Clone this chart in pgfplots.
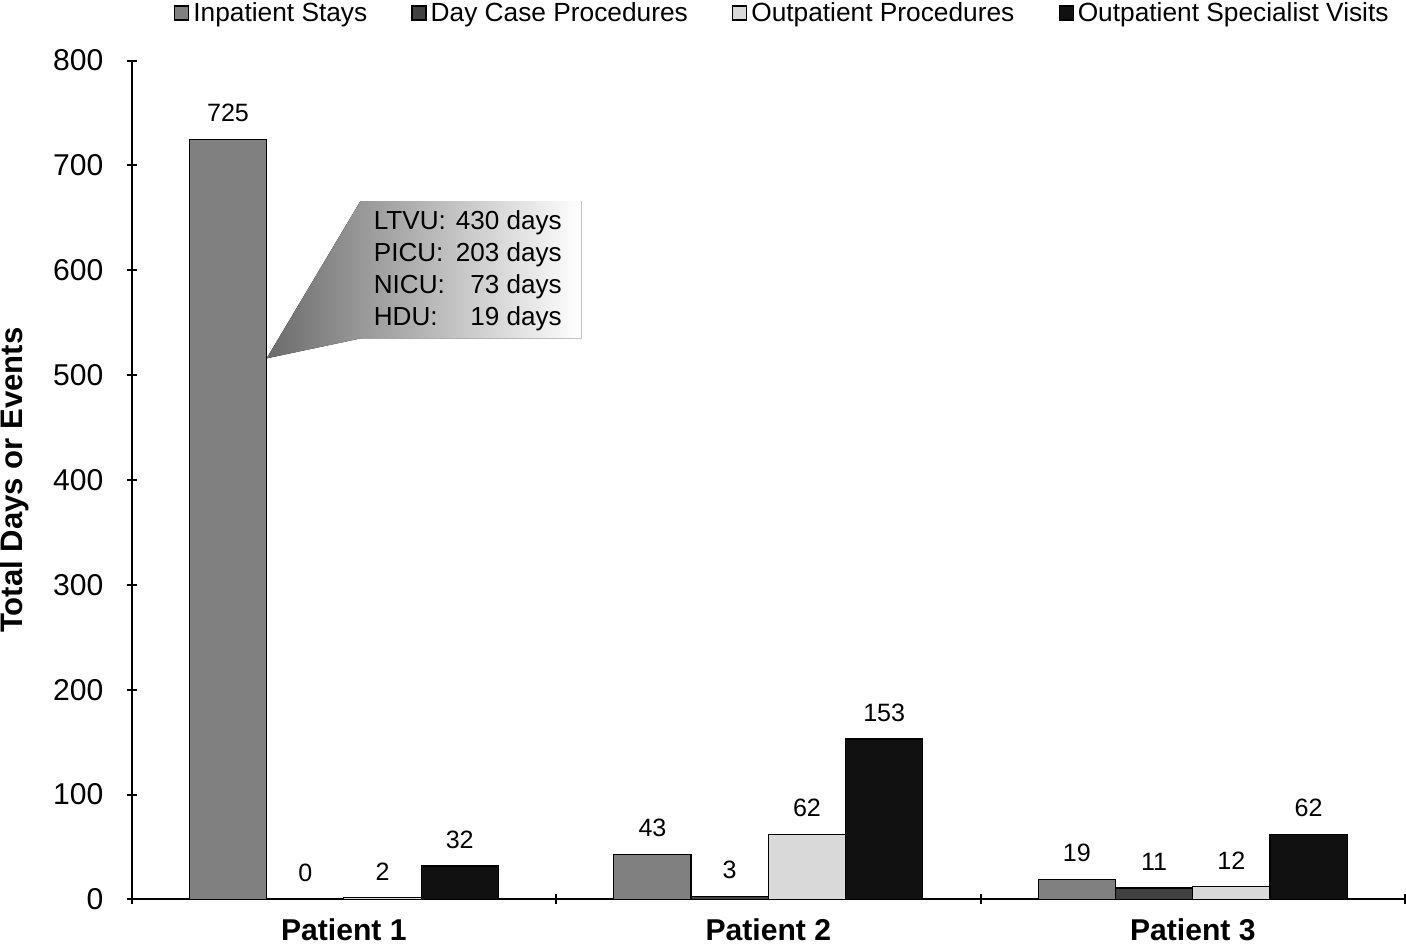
\documentclass[border=0pt]{standalone}
\usepackage{pgfplots}
\pgfplotsset{compat=1.18}
\usepackage{fontspec}
\setmainfont{Liberation Sans}
\definecolor{inpat}{RGB}{128,128,128}
\definecolor{daycase}{RGB}{64,64,64}
\definecolor{outproc}{RGB}{217,217,217}
\definecolor{spec}{RGB}{17,17,17}
\begin{document}
\begin{tikzpicture}
\begin{axis}[
    scale only axis,
    width=634.5pt, height=418pt,
    ybar=0pt, bar width=0.182,
    xmin=-0.5, xmax=2.5, ymin=0, ymax=800,
    xtick={0,1,2},
    xticklabels={Patient 1,Patient 2,Patient 3},
    minor xtick={-0.5,0.5,1.5,2.5},
    major x tick style={draw=none},
    ytick={0,100,...,800},
    tick align=outside,
    major tick length=5pt, minor tick length=5pt,
    axis lines=left,
    axis line style={-, line width=1pt},
    every tick/.style={black, line width=1pt},
    /pgf/number format/assume math mode=true,
    x tick label style={font=\fontsize{15}{18}\selectfont\bfseries, inner sep=0pt,
        text depth=2pt, yshift=-7pt},
    y tick label style={font=\fontsize{15}{18}\selectfont, xshift=-8pt},
    ylabel={Total Days or Events},
    every axis y label/.style={at={(axis description cs:-0.092,0.5)}, rotate=90, anchor=center,
        inner sep=0pt, font=\fontsize{15.5}{18}\selectfont\bfseries},
    nodes near coords,
    every node near coord/.append style={font=\fontsize{12.5}{14}\selectfont, black, yshift=5pt},
    legend columns=4,
    legend style={at={(1,1)}, anchor=south east, xshift=-6pt, yshift=17pt, draw=none,
        inner sep=0pt, nodes={inner ysep=1pt},
        font=\fontsize{13.1}{15}\selectfont,
        /tikz/every even column/.append style={column sep=20pt}},
    legend image code/.code={\draw[#1, line width=0.6pt] (0pt,-3.5pt) rectangle (7pt,3.5pt);},
]
\addplot[fill=inpat, draw=black, line width=0.6pt] coordinates {(0,725) (1,43) (2,19)};
\addplot[fill=daycase, draw=black, line width=0.6pt] coordinates {(0,0) (1,3) (2,11)};
\addplot[fill=outproc, draw=black, line width=0.6pt] coordinates {(0,2) (1,62) (2,12)};
\addplot[fill=spec, draw=black, line width=0.6pt] coordinates {(0,32) (1,153) (2,62)};
\legend{Inpatient Stays,Day Case Procedures,Outpatient Procedures,Outpatient Specialist Visits}
% callout
\fill[left color=black!58, right color=white, shading angle=90]
    (axis cs:-0.182,516) -- (axis cs:0.039,666) -- (axis cs:0.56,666)
    -- (axis cs:0.56,535) -- (axis cs:0.039,535) -- cycle;
\node[anchor=west, inner sep=0pt, font=\fontsize{13}{16}\selectfont] at (axis cs:0.0697,599)
    {\begin{tabular}{@{}l@{\hspace{5pt}}r@{}}
     LTVU: & 430 days\\
     PICU: & 203 days\\
     NICU: & 73 days\\
     HDU: & 19 days
     \end{tabular}};
\end{axis}
\end{tikzpicture}
\end{document}
